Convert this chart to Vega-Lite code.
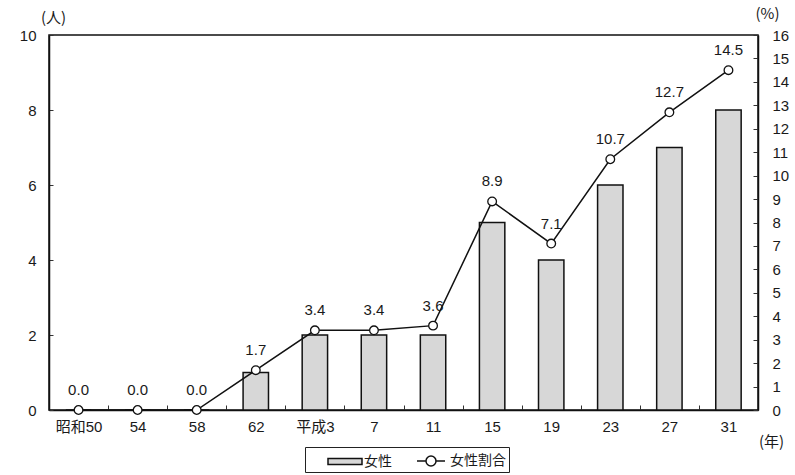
{
  "$schema": "https://vega.github.io/schema/vega-lite/v6.json",
  "autosize": {"type": "none"},
  "width": 709,
  "height": 375,
  "padding": {"left": 49, "top": 35, "right": 37, "bottom": 65},
  "background": "#ffffff",
  "config": {
    "font": "Liberation Sans, Noto Sans CJK JP",
    "view": {"stroke": "#111111", "strokeWidth": 1.5},
    "axis": {
      "labelFont": "Liberation Sans, Noto Sans CJK JP",
      "labelFontSize": 15,
      "labelColor": "#1a1a1a",
      "titleFont": "Noto Sans CJK JP",
      "titleFontSize": 15,
      "titleFontWeight": "normal",
      "titleColor": "#1a1a1a",
      "domainColor": "#111111",
      "domainWidth": 1.5,
      "tickColor": "#333333",
      "tickWidth": 1,
      "grid": false
    }
  },
  "data": {
    "values": [
      {"year": "昭和50", "count": 0, "pct": 0.0},
      {"year": "54", "count": 0, "pct": 0.0},
      {"year": "58", "count": 0, "pct": 0.0},
      {"year": "62", "count": 1, "pct": 1.7},
      {"year": "平成3", "count": 2, "pct": 3.4},
      {"year": "7", "count": 2, "pct": 3.4},
      {"year": "11", "count": 2, "pct": 3.6},
      {"year": "15", "count": 5, "pct": 8.9},
      {"year": "19", "count": 4, "pct": 7.1},
      {"year": "23", "count": 6, "pct": 10.7},
      {"year": "27", "count": 7, "pct": 12.7},
      {"year": "31", "count": 8, "pct": 14.5}
    ]
  },
  "encoding": {
    "x": {
      "field": "year",
      "type": "nominal",
      "sort": null,
      "scale": {"paddingInner": 0, "paddingOuter": 0},
      "axis": {
        "labelAngle": 0,
        "labelPadding": 14,
        "tickBand": "extent",
        "tickSize": -5,
        "title": "(年)",
        "titleAngle": 0,
        "titleAnchor": "start",
        "titleAlign": "center",
        "titleBaseline": "middle",
        "titleX": 722,
        "titleY": 31
      }
    }
  },
  "layer": [
    {
      "mark": {"type": "bar", "stroke": "#111111", "strokeWidth": 1.5, "width": {"band": 0.43}},
      "encoding": {
        "y": {
          "field": "count",
          "type": "quantitative",
          "scale": {"domain": [0, 10]},
          "axis": {
            "orient": "left",
            "values": [0, 2, 4, 6, 8, 10],
            "tickSize": -4,
            "labelPadding": 17,
            "title": "(人)",
            "titleAngle": 0,
            "titleAlign": "center",
            "titleBaseline": "middle",
            "titleX": 4,
            "titleY": -18
          }
        },
        "fill": {
          "datum": "女性",
          "type": "nominal",
          "scale": {"domain": ["女性", "女性割合"], "range": ["#d7d7d7", "#ffffff"]},
          "legend": {
            "orient": "none",
            "legendX": 256,
            "legendY": 412,
            "direction": "horizontal",
            "title": null,
            "strokeColor": "#222222",
            "fillColor": "#ffffff",
            "padding": 3,
            "cornerRadius": 0,
            "symbolSize": 400,
            "symbolStrokeColor": "#111111",
            "symbolStrokeWidth": 1.5,
            "symbolOffset": 26,
            "labelFont": "Noto Sans CJK JP",
            "labelFontSize": 14,
            "labelColor": "#1a1a1a",
            "labelOffset": 8,
            "columnPadding": 2,
            "encode": {
              "symbols": {
                "update": {
                  "shape": {"signal": "datum.value === '女性' ? 'M-1.7,-0.3H1.7V0.3H-1.7Z' : 'M-1.4,0H-0.5M0.5,0H1.4M-0.5,0A0.5,0.5 0 1,0 0.5,0A0.5,0.5 0 1,0 -0.5,0'"}
                }
              }
            }
          }
        }
      }
    },
    {
      "mark": {"type": "line", "color": "#111111", "strokeWidth": 1.5},
      "encoding": {
        "y": {
          "field": "pct",
          "type": "quantitative",
          "scale": {"domain": [0, 16]},
          "axis": {
            "orient": "right",
            "values": [0, 1, 2, 3, 4, 5, 6, 7, 8, 9, 10, 11, 12, 13, 14, 15, 16],
            "tickSize": -5,
            "labelPadding": 19,
            "title": "(%)",
            "titleAngle": 0,
            "titleAlign": "center",
            "titleBaseline": "middle",
            "titleX": 9,
            "titleY": -22
          }
        }
      }
    },
    {
      "mark": {"type": "point", "filled": true, "stroke": "#111111", "strokeWidth": 1.3, "size": 75, "opacity": 1},
      "encoding": {
        "y": {"field": "pct", "type": "quantitative", "scale": {"domain": [0, 16]}, "axis": null},
        "fill": {"datum": "女性割合", "type": "nominal"}
      }
    },
    {
      "mark": {"type": "text", "dy": -20, "fontSize": 15, "color": "#1a1a1a", "font": "Liberation Sans"},
      "encoding": {
        "y": {"field": "pct", "type": "quantitative", "scale": {"domain": [0, 16]}, "axis": null},
        "text": {"field": "pct", "type": "quantitative", "format": ".1f"}
      }
    }
  ],
  "resolve": {"scale": {"y": "independent"}}
}
